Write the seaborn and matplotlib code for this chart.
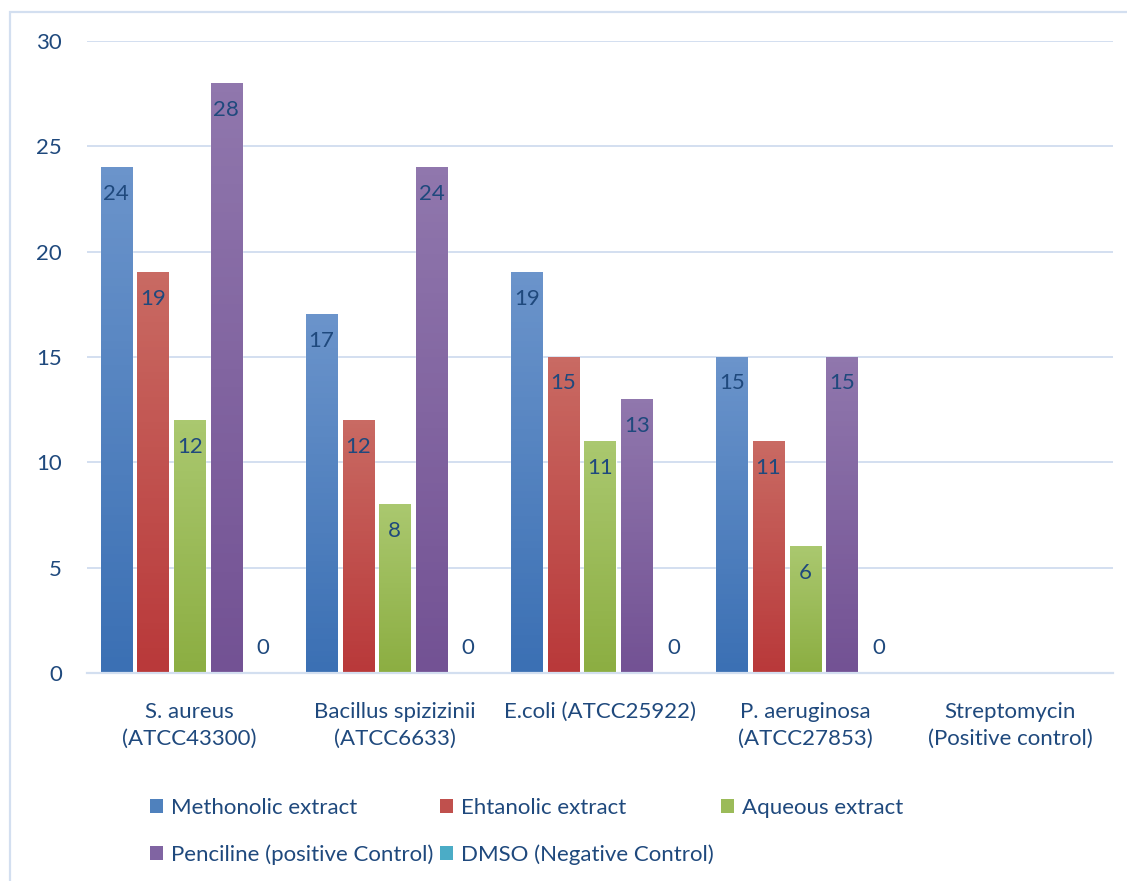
import numpy as np
import pandas as pd
import seaborn as sns
import matplotlib.pyplot as plt
from matplotlib.colors import LinearSegmentedColormap
from matplotlib.patches import Patch, Rectangle

categories = [
    "S. aureus\n(ATCC43300)",
    "Bacillus spizizinii\n(ATCC6633)",
    "E.coli (ATCC25922)",
    "P. aeruginosa\n(ATCC27853)",
    "Streptomycin\n(Positive control)",
]
series = [
    "Methonolic extract",
    "Ehtanolic extract",
    "Aqueous extract",
    "Penciline (positive Control)",
    "DMSO (Negative Control)",
]
methanolic = [24, 17, 19, 15, np.nan]
ethanolic = [19, 12, 15, 11, np.nan]
aqueous = [12, 8, 11, 6, np.nan]
penciline = [28, 24, 13, 15, np.nan]
dmso = [0, 0, 0, 0, np.nan]

# colours: legend / top of gradient / bottom of gradient
base_colors = ["#4f81bd", "#c0504d", "#9bbb59", "#8064a2", "#4bacc6"]
top_colors = ["#6b94cb", "#c96a63", "#aac86f", "#9077ad", "#6cc0d6"]
bottom_colors = ["#3b70b4", "#b9393a", "#8cae42", "#735294", "#3ea4c1"]

text_color = "#1f497d"
grid_color = "#d3dff0"

df = pd.DataFrame({
    "Organism": categories * 5,
    "Series": sum([[s] * 5 for s in series], []),
    "Zone": methanolic + ethanolic + aqueous + penciline + dmso,
})

sns.set_theme(style="white")
plt.rcParams['font.family'] = ['Lato', 'DejaVu Sans']

fig = plt.figure(figsize=(11.27, 8.81), dpi=100)
ax = fig.add_axes([87 / 1127, 208 / 881, 1026 / 1127, 632 / 881])

sns.barplot(
    data=df, x="Organism", y="Zone", hue="Series",
    order=categories, hue_order=series,
    palette=base_colors, width=0.894, gap=0.155,
    legend=False, ax=ax, errorbar=None,
)

# gradient fill (light at top, dark at bottom) + labels
grad = np.linspace(1, 0, 64).reshape(-1, 1)
for i, cont in enumerate(ax.containers):
    cmap = LinearSegmentedColormap.from_list("g", [bottom_colors[i], top_colors[i]])
    for p in cont.patches:
        x, w, h = p.get_x(), p.get_width(), p.get_height()
        if np.isnan(h):
            continue
        if h > 0:
            ax.imshow(grad, cmap=cmap, aspect="auto",
                      extent=[x, x + w, 0, h], zorder=2, vmin=0, vmax=1)
            p.set_facecolor("none")
            off = -19
        else:
            off = 18
        ax.annotate(f"{h:g}", (x + w / 2, h), xytext=(0, off),
                    textcoords="offset points", ha="center", va="center",
                    fontsize=16, color=text_color, zorder=3)

ax.set_xlim(-0.5, 4.5)
ax.set_ylim(0, 30)
ax.set_yticks([0, 5, 10, 15, 20, 25, 30])
ax.yaxis.grid(True, color=grid_color, linewidth=1.4)
ax.set_axisbelow(True)
for s in ["top", "right", "left"]:
    ax.spines[s].set_visible(False)
ax.spines["bottom"].set_color(grid_color)
ax.spines["bottom"].set_linewidth(1.6)
ax.tick_params(axis="y", length=0, pad=18, labelsize=16, labelcolor=text_color)
ax.tick_params(axis="x", length=0, pad=21, labelsize=16, labelcolor=text_color)
for t in ax.get_xticklabels():
    t.set_linespacing(1.4)
    t.set_verticalalignment("top")
ax.set_xlabel("")
ax.set_ylabel("")

# legend, row-major order
handles = [Patch(facecolor=c, edgecolor="none") for c in base_colors]
order = [0, 3, 1, 4, 2]
fig.legend([handles[k] for k in order], [series[k] for k in order],
           loc="upper left", bbox_to_anchor=(130 / 1127, 1 - 778 / 881),
           ncol=3, frameon=False, fontsize=16, labelcolor=text_color,
           handlelength=0.6, handleheight=0.6, handletextpad=0.35,
           columnspacing=0.3, labelspacing=1.18)

# outer chart border
fig.patches.append(Rectangle((10 / 1127, -0.05), 1.2, 1 - 12 / 881 + 0.05,
                             transform=fig.transFigure, fill=False,
                             edgecolor=grid_color, linewidth=1.6))

fig.savefig("out.png", dpi=100)
